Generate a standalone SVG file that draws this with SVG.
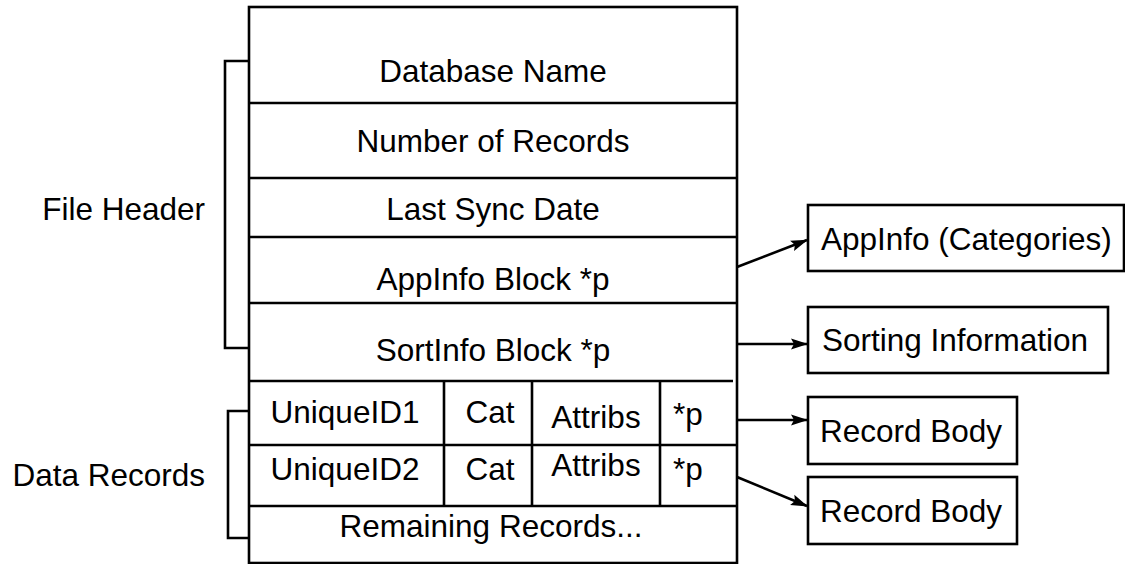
<svg xmlns="http://www.w3.org/2000/svg" width="1125" height="564" viewBox="0 0 1125 564">
<style>
.ln{fill:none;stroke:#000;stroke-width:2.6}
.bx{fill:#fff;stroke:#000;stroke-width:2.6}
.t{font-family:"Liberation Sans",Arial,sans-serif;font-size:31.5px;fill:#000}
.c{text-anchor:middle}
.r{text-anchor:end}
.ar{fill:none;stroke:#000;stroke-width:2.6}
</style>
<defs>
<marker id="ah" markerWidth="17" markerHeight="12" refX="16" refY="6" orient="auto" markerUnits="userSpaceOnUse">
<path d="M0,0.5 L17,6 L0,11.5 L3,6 Z" fill="#000"/>
</marker>
</defs>
<rect width="1125" height="564" fill="#fff"/>
<g id="file-structure">
<rect class="bx" x="249" y="7" width="488" height="556"/>
<path class="ln" d="M249,103H737M249,178H737M249,237H737M249,303H737M249,381H733M249,445H737M249,506H737M444,381V506M532,381V506M660,381V506"/>
<text class="t c" x="493" y="82">Database Name</text>
<text class="t c" x="493" y="152">Number of Records</text>
<text class="t c" x="493" y="220">Last Sync Date</text>
<text class="t c" x="493" y="290">AppInfo Block *p</text>
<text class="t c" x="493" y="361">SortInfo Block *p</text>
<text class="t c" x="345" y="423">UniqueID1</text>
<text class="t c" x="490" y="423">Cat</text>
<text class="t c" x="596" y="428">Attribs</text>
<text class="t" x="673" y="425">*p</text>
<text class="t c" x="345" y="480">UniqueID2</text>
<text class="t c" x="490" y="480">Cat</text>
<text class="t c" x="596" y="476">Attribs</text>
<text class="t" x="673" y="480">*p</text>
<text class="t c" x="491" y="537">Remaining Records...</text>
</g>
<g id="file-header-bracket">
<path class="ln" d="M249,61H225V348H249"/>
<text class="t r" x="205" y="220">File Header</text>
</g>
<g id="data-records-bracket">
<path class="ln" d="M249,411H228V538H249"/>
<text class="t r" x="205" y="486">Data Records</text>
</g>
<g id="appinfo">
<rect class="bx" x="808" y="205" width="316" height="66"/>
<text class="t" x="821" y="250">AppInfo (Categories)</text>
</g>
<g id="sorting">
<rect class="bx" x="808" y="307" width="300" height="66"/>
<text class="t" x="822" y="351">Sorting Information</text>
</g>
<g id="record-body-1">
<rect class="bx" x="808" y="397" width="209" height="67"/>
<text class="t" x="820" y="442">Record Body</text>
</g>
<g id="record-body-2">
<rect class="bx" x="808" y="477" width="209" height="67"/>
<text class="t" x="820" y="522">Record Body</text>
</g>
<g id="connectors">
<line class="ar" x1="737" y1="267" x2="807" y2="240" marker-end="url(#ah)"/>
<line class="ar" x1="737" y1="344" x2="807" y2="344" marker-end="url(#ah)"/>
<line class="ar" x1="737" y1="420" x2="807" y2="420" marker-end="url(#ah)"/>
<line class="ar" x1="737" y1="477" x2="807" y2="506" marker-end="url(#ah)"/>
</g>
</svg>
